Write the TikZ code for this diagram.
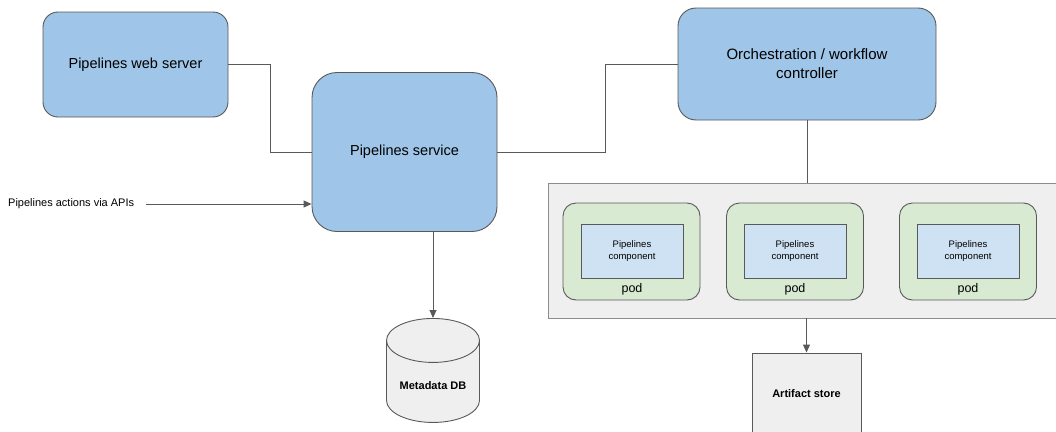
\documentclass[tikz,border=0pt]{standalone}
\usepackage{fontspec}
\setmainfont{Liberation Sans}
\usepackage{xcolor}
\usetikzlibrary{shapes.geometric, arrows.meta, positioning}

\definecolor{svcblue}{HTML}{9FC5E8}
\definecolor{compblue}{HTML}{CFE2F3}
\definecolor{podgreen}{HTML}{D9EAD3}
\definecolor{boxgray}{HTML}{EFEFEF}
\definecolor{edgegray}{HTML}{595959}

\begin{document}
\begin{tikzpicture}[
    x=1pt, y=-1pt,
    % ── Service blocks: blue, rounded ────────────────────────────────
    svcbox/.style={
        draw=edgegray, fill=svcblue, rectangle, line width=0.9pt,
        align=center, font=\fontsize{14.5}{19}\selectfont
    },
    % ── Cluster container and pods ───────────────────────────────────
    cluster/.style={draw=black!45, fill=boxgray, rectangle, line width=0.9pt},
    podbox/.style={draw=edgegray, fill=podgreen, rectangle, rounded corners=13pt,
                   minimum width=137pt, minimum height=97pt, line width=0.9pt},
    compbox/.style={draw=edgegray, fill=compblue, rectangle, align=center,
                    minimum width=102pt, minimum height=54pt, line width=0.9pt,
                    font=\fontsize{9.5}{12}\selectfont},
    podlbl/.style={anchor=base, inner sep=0pt, font=\fontsize{12.5}{15}\selectfont},
    % ── Storage ──────────────────────────────────────────────────────
    store/.style={draw=edgegray, fill=boxgray, line width=0.9pt,
                  font=\fontsize{11}{13}\selectfont\bfseries},
    % ── Connectors: grey lines, triangle tips ────────────────────────
    link/.style={draw=edgegray, line width=0.9pt},
    arrow/.style={link, -{Triangle[length=8pt, width=7pt]}},
    lbl/.style={font=\fontsize{11}{13}\selectfont, inner sep=0pt}
]
\useasboundingbox (0,0) rectangle (1056,431);

% ══════════════════════════════════════════════════════════════════════
% NODE PLACEMENT
% ══════════════════════════════════════════════════════════════════════

    % ── Top row services ──────────────────────────────────────────
    \node[svcbox, rounded corners=15pt, minimum width=185pt, minimum height=105pt]
        (web) at (135.5, 64.5) {Pipelines web server};
    \node[svcbox, rounded corners=25pt, minimum width=185pt, minimum height=159pt]
        (svc) at (404.5, 152) {Pipelines service};
    \node[svcbox, rounded corners=18pt, minimum width=258pt, minimum height=112pt,
          font=\fontsize{15}{19}\selectfont]
        (orch) at (807, 64) {Orchestration / workflow\\controller};

    % ── API callers ──
    \node[lbl, anchor=west] (api) at (8, 204) {Pipelines actions via APIs};

    % ── Cluster with pods ─────────────────────────────────────────
    \node[cluster, minimum width=514pt, minimum height=135pt] (cont) at (805, 250.5) {};

    \node[podbox] (pod1) at (631.5, 251.5) {};
    \node[podbox] (pod2) at (795, 251.5) {};
    \node[podbox] (pod3) at (968, 251.5) {};

    \node[compbox] (comp1) at (632, 251) {Pipelines\\component};
    \node[compbox] (comp2) at (795, 251) {Pipelines\\component};
    \node[compbox] (comp3) at (968, 251) {Pipelines\\component};

    \node[podlbl] (lbl1) at (632, 292) {pod};
    \node[podlbl] (lbl2) at (795, 292) {pod};
    \node[podlbl] (lbl3) at (968, 292) {pod};

    % ── Stores ────────────────────────────────────────────────────
    \node[store, cylinder, shape border rotate=90, aspect=0.6, anchor=north,
          minimum width=93pt, minimum height=104pt] (db) at (433, 318) {Metadata DB};
    \node[store, rectangle, minimum width=109pt, minimum height=82pt]
        (art) at (806.5, 394) {Artifact store};

% ══════════════════════════════════════════════════════════════════════
% CONNECTIONS
% ══════════════════════════════════════════════════════════════════════

    \path[link] (web.east) -- ++(42,0) |- (svc.west);
    \path[link] (svc.east) -- ++(108,0) |- (orch.west);
    \path[link] (orch.south) -- (orch.south |- cont.north);

    \path[arrow] ([xshift=12pt]api.east) -- (api -| svc.west);
    \path[arrow] (db.north |- svc.south) -- (db.north);
    \path[arrow] (art.north |- cont.south) -- (art.north);

\end{tikzpicture}
\end{document}
